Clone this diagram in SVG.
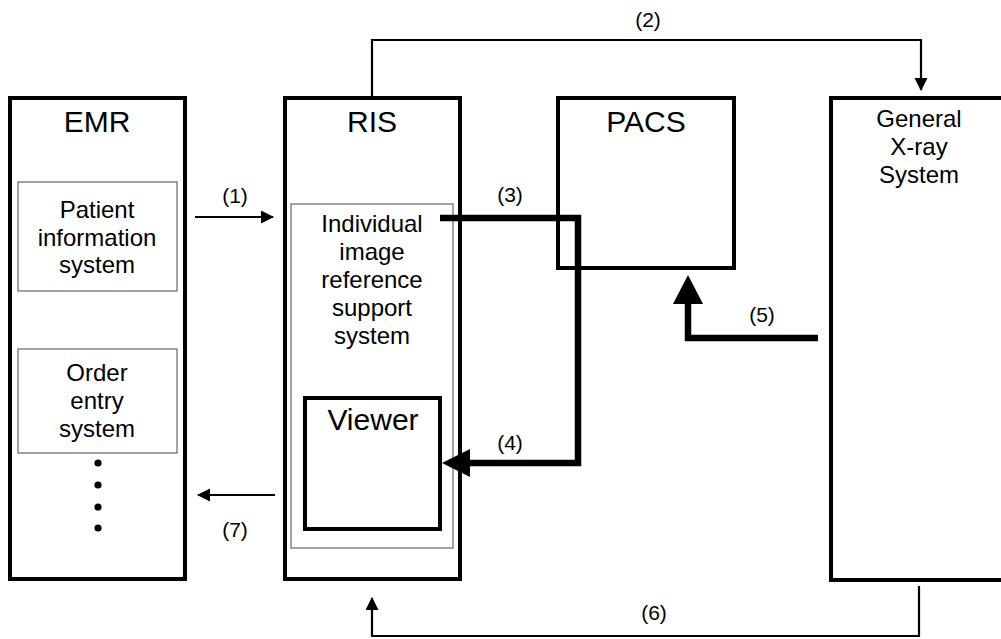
<svg xmlns="http://www.w3.org/2000/svg" width="1001" height="639" viewBox="0 0 1001 639">
<style>
text{font-family:"Liberation Sans",Arial,sans-serif;fill:#000;text-anchor:middle}
.title{font-size:30px}
.sub{font-size:24px}
.lbl{font-size:21px}
.box{fill:#fff;stroke:#000;stroke-width:4}
.inner{fill:#fff;stroke:#666;stroke-width:1.2}
.thin{fill:none;stroke:#000;stroke-width:2.2}
.thick{fill:none;stroke:#000;stroke-width:6.5}
</style>
<defs>
<marker id="ah" markerWidth="14" markerHeight="14" refX="12" refY="6.5" orient="auto" markerUnits="userSpaceOnUse">
<path d="M0,0 L13,6.5 L0,13 Z" fill="#000"/>
</marker>
</defs>
<rect width="1001" height="639" fill="#fff"/>
<g id="emr">
<rect class="box" x="10" y="98" width="175" height="481"/>
<text class="title" x="97" y="132">EMR</text>
<g id="patient-info">
<rect class="inner" x="18" y="182" width="159" height="109"/>
<text class="sub" x="97" y="218">Patient</text>
<text class="sub" x="97" y="246">information</text>
<text class="sub" x="97" y="273">system</text>
</g>
<g id="order-entry">
<rect class="inner" x="18" y="349" width="159" height="104"/>
<text class="sub" x="97" y="381">Order</text>
<text class="sub" x="97" y="409">entry</text>
<text class="sub" x="97" y="437">system</text>
</g>
<circle cx="98" cy="463" r="3.6"/>
<circle cx="98" cy="485" r="3.6"/>
<circle cx="98" cy="507" r="3.6"/>
<circle cx="98" cy="528" r="3.6"/>
</g>
<g id="ris">
<rect class="box" x="285" y="98" width="175" height="481"/>
<text class="title" x="372" y="132">RIS</text>
<g id="image-ref">
<rect class="inner" x="291" y="204" width="162" height="344"/>
<text class="sub" x="372" y="232">Individual</text>
<text class="sub" x="372" y="260">image</text>
<text class="sub" x="372" y="288">reference</text>
<text class="sub" x="372" y="316">support</text>
<text class="sub" x="372" y="344">system</text>
</g>
<g id="viewer">
<rect class="box" x="305" y="398" width="135" height="131"/>
<text class="title" x="373" y="430">Viewer</text>
</g>
</g>
<g id="pacs">
<rect class="box" x="558" y="98" width="176" height="170"/>
<text class="title" x="646" y="132">PACS</text>
</g>
<g id="xray">
<rect class="box" x="831" y="98" width="200" height="482"/>
<text class="sub" x="919" y="127">General</text>
<text class="sub" x="919" y="155">X-ray</text>
<text class="sub" x="919" y="183">System</text>
</g>
<g id="connectors">
<line class="thin" x1="195" y1="217" x2="273" y2="217" marker-end="url(#ah)"/>
<text class="lbl" x="235" y="203">(1)</text>
<polyline class="thin" points="372,96 372,40 921,40 921,90" marker-end="url(#ah)"/>
<text class="lbl" x="648" y="27">(2)</text>
<polyline class="thick" points="440,218 578,218 578,463 468,463"/>
<path d="M442,463 L470,449 L470,477 Z" fill="#000"/>
<text class="lbl" x="510" y="202">(3)</text>
<text class="lbl" x="510" y="450">(4)</text>
<polyline class="thick" points="818,338 688,338 688,301"/>
<path d="M688,275 L703,304 L673,304 Z" fill="#000"/>
<text class="lbl" x="762" y="322">(5)</text>
<polyline class="thin" points="919,586 919,636 372,636 372,598" marker-end="url(#ah)"/>
<text class="lbl" x="654" y="620">(6)</text>
<line class="thin" x1="275" y1="495" x2="198" y2="495" marker-end="url(#ah)"/>
<text class="lbl" x="235" y="537">(7)</text>
</g>
</svg>
